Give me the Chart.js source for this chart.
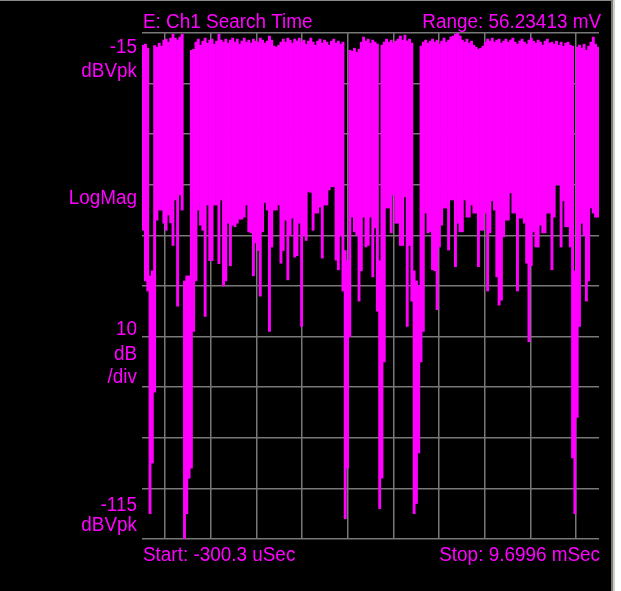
<!DOCTYPE html>
<html>
<head>
<meta charset="utf-8">
<title>E: Ch1 Search Time</title>
<script src="https://cdn.jsdelivr.net/npm/chart.js@4/dist/chart.umd.min.js"></script>
<style>
  html, body { margin: 0; padding: 0; background: #000; overflow: hidden; }
  #screen { position: absolute; left: 0; top: 0; width: 621px; height: 591px; background: #000; }
  #screen canvas { position: absolute; left: 0; top: 0; }
  #edgeTop { position: absolute; left: 0; top: 0; width: 611px; height: 1px; background: #8a8a8a; }
  #edgeRight { position: absolute; left: 611px; top: 0; width: 10px; height: 591px;
    background: linear-gradient(to right, #7d7a74 0, #7d7a74 2px, #d4d0c8 2px, #d4d0c8 4px, #ffffff 4px); }
</style>
</head>
<body>
<div id="screen">
  <canvas id="trace" width="611" height="591"></canvas>
  <div id="edgeTop"></div>
  <div id="edgeRight"></div>
</div>
<script>
// Sweep settings
const startMs = -0.3003;      // Start: -300.3 uSec
const stopMs = 9.6996;        // Stop: 9.6996 mSec
const refLevelDb = -15;       // top of screen, dBVpk
const dbPerDiv = 10;
const divisions = 10;

// Header / footer / side annotation text
const headerLabels = ['E: Ch1 Search Time', 'Range: 56.23413 mV'];
const footerLabels = ['Start: -300.3 uSec', 'Stop: 9.6996 mSec'];
const topScaleLabels = ['-15', 'dBVpk'];
const formatLabel = 'LogMag';
const perDivLabels = ['10', 'dB', '/div'];
const bottomScaleLabels = ['-115', 'dBVpk'];

// Trace envelope per display column (dBVpk): peak and trough of the signal in each bin
const traceMax = [
  -17.4, -17.2, -18.0, -63, -62, -17.5, -17.8, -17.0, -17.6, -16.4,
  -16.2, -16.8, -16.0, -15.2, -16.0, -16.4, -15.8, -15.2, -64, -63,
  -63, -18.4, -18.2, -16.8, -16.2, -17.4, -16.6, -16.0, -17.0, -16.4,
  -16.2, -17.2, -16.6, -15.2, -16.4, -16.8, -16.2, -17.0, -16.4, -16.0,
  -16.8, -16.2, -17.2, -16.6, -16.0, -16.8, -16.4, -17.0, -16.2, -16.6,
  -16.8, -16.0, -16.4, -17.0, -16.6, -15.6, -16.4, -17.6, -17.8, -17.4,
  -16.8, -16.2, -16.8, -16.0, -16.4, -17.0, -16.2, -16.6, -16.0, -16.8,
  -16.4, -17.2, -16.6, -16.0, -16.8, -17.4, -16.6, -16.2, -17.0, -16.4,
  -16.8, -17.4, -16.6, -16.2, -17.0, -16.6, -17.2, -16.8, -58, -60,
  -18.4, -18.6, -18.0, -18.8, -18.2, -16.8, -15.8, -16.6, -16.2, -17.0,
  -16.4, -16.8, -17.2, -60, -17.4, -16.8, -16.2, -16.8, -16.4, -17.0,
  -16.6, -16.2, -15.6, -16.4, -15.4, -16.6, -16.2, -17.0, -62, -64,
  -65, -17.6, -16.8, -16.4, -17.0, -16.6, -16.2, -16.8, -16.4, -17.2,
  -16.6, -16.0, -16.8, -16.4, -15.8, -15.6, -15.2, -15.0, -15.6, -16.4,
  -16.8, -16.2, -17.0, -16.6, -17.4, -17.8, -18.2, -18.0, -17.6, -16.8,
  -16.2, -16.6, -16.0, -16.8, -16.4, -16.2, -17.0, -16.6, -16.2, -16.8,
  -16.4, -16.0, -16.8, -17.2, -16.6, -16.2, -16.8, -17.2, -16.4, -16.0,
  -16.6, -17.0, -16.4, -16.8, -17.4, -16.6, -16.2, -17.0, -16.8, -17.2,
  -16.6, -17.4, -16.8, -17.6, -17.0, -16.8, -17.4, -17.6, -62, -17.8,
  -17.4, -18.0, -17.2, -18.4, -17.6, -16.8, -15.8, -17.2, -17.8
];
const traceMin = [
  -54, -64, -66, -110, -100, -86, -52, -50, -50, -52.6,
  -54, -51, -52.5, -57, -48, -69, -47, -50, -115, -110,
  -103, -101, -74, -64, -50, -53, -54, -71, -49, -60,
  -60, -49, -49, -60.6, -48, -65, -64, -52.6, -61, -53,
  -53.3, -52.6, -51.8, -51.8, -51.4, -49, -54.3, -54.5, -63, -56.5,
  -58, -67, -54.3, -48.5, -50, -74, -57.3, -50, -50, -49,
  -60.5, -58, -52, -63.8, -55, -51.6, -59.3, -59, -52.6, -73,
  -55, -56, -46.4, -46.5, -54, -50.6, -50.6, -49.4, -59.5, -49,
  -49, -46, -45.4, -45.4, -59.9, -61.8, -55, -66, -111, -101,
  -75, -51.4, -54.3, -55, -68, -62, -51.4, -57.3, -57, -51.4,
  -63.2, -53.5, -70, -109, -103, -80, -49.6, -49.6, -54.5, -47,
  -52.6, -52.6, -57, -57, -47.4, -73, -57, -68, -110, -108,
  -98, -80, -74, -50.6, -54.5, -54.3, -61.8, -62, -69.7, -57.3,
  -53, -49.6, -49.6, -57.9, -48, -48, -61.2, -52.6, -54.3, -54.3,
  -48, -51.4, -51.4, -49, -50.6, -50.6, -61.2, -54, -54, -50.6,
  -66, -54.5, -48.2, -50, -63.2, -68.8, -67.8, -55.3, -52, -52,
  -46.6, -50.6, -50.6, -66, -51.6, -51.6, -52.6, -60.5, -76, -61,
  -54.3, -57.3, -57.3, -53, -54.5, -54.5, -50.6, -50.6, -61.8, -51.4,
  -45, -45, -57.3, -48.2, -53.3, -53.3, -57.3, -99, -110, -91,
  -73, -52.6, -55, -68, -64, -49.6, -50.6, -51.4, -51.4
];

const bottomDb = refLevelDb - dbPerDiv * divisions;
const binMs = (stopMs - startMs) / traceMax.length;
const tracePoints = traceMax.map((hi, i) => ({
  x: startMs + (i + 0.5) * binMs,
  y: [traceMin[i], hi]
}));

const traceColor = '#ff00ff';
const gridColor = '#787878';
const textFont = '20px "Liberation Sans", Arial, sans-serif';
const textSqueeze = 0.945;

function putText(ctx, text, x, y, align) {
  ctx.save();
  ctx.translate(x, y);
  ctx.scale(textSqueeze, 1);
  ctx.textAlign = align;
  ctx.textBaseline = 'alphabetic';
  ctx.fillText(text, 0, 0);
  ctx.restore();
}

// Annotations around the graticule
const annotationPlugin = {
  id: 'annotations',
  afterDraw(chart) {
    const { ctx, chartArea: a } = chart;
    ctx.save();
    ctx.fillStyle = traceColor;
    ctx.font = textFont;
    putText(ctx, headerLabels[0], a.left + 1, a.top - 5, 'left');
    putText(ctx, headerLabels[1], a.right + 2, a.top - 5, 'right');
    putText(ctx, footerLabels[0], a.left + 1, a.bottom + 22, 'left');
    putText(ctx, footerLabels[1], a.right + 1, a.bottom + 22, 'right');
    const lx = a.left - 5;
    putText(ctx, topScaleLabels[0], lx, a.top + 20, 'right');
    putText(ctx, topScaleLabels[1], lx, a.top + 44, 'right');
    putText(ctx, formatLabel, lx, a.top + 171, 'right');
    putText(ctx, perDivLabels[0], lx, a.top + 302, 'right');
    putText(ctx, perDivLabels[1], lx, a.top + 327, 'right');
    putText(ctx, perDivLabels[2], lx, a.top + 350, 'right');
    putText(ctx, bottomScaleLabels[0], lx, a.bottom - 28, 'right');
    putText(ctx, bottomScaleLabels[1], lx, a.bottom - 8, 'right');
    ctx.restore();
  }
};

const gridOpts = { color: gridColor, lineWidth: 1.5, drawTicks: false };

new Chart(document.getElementById('trace'), {
  type: 'bar',
  data: {
    datasets: [{
      data: tracePoints,
      backgroundColor: traceColor,
      borderWidth: 0,
      inflateAmount: 0.3,
      barPercentage: 1,
      categoryPercentage: 1
    }]
  },
  options: {
    responsive: false,
    animation: false,
    events: [],
    layout: { padding: { left: 142, right: 12, top: 33, bottom: 52 } },
    plugins: { legend: { display: false }, tooltip: { enabled: false }, title: { display: false } },
    scales: {
      x: {
        type: 'linear',
        min: startMs,
        max: stopMs,
        offset: false,
        grid: gridOpts,
        border: { display: false },
        ticks: { display: false },
        afterBuildTicks(scale) {
          const step = (stopMs - startMs) / divisions;
          scale.ticks = Array.from({ length: divisions + 1 }, (_, k) => ({ value: startMs + k * step }));
        }
      },
      y: {
        type: 'linear',
        min: bottomDb,
        max: refLevelDb,
        grid: gridOpts,
        border: { display: false },
        ticks: { display: false },
        afterBuildTicks(scale) {
          scale.ticks = Array.from({ length: divisions + 1 }, (_, k) => ({ value: bottomDb + k * dbPerDiv }));
        }
      }
    }
  },
  plugins: [annotationPlugin]
});
</script>
</body>
</html>
